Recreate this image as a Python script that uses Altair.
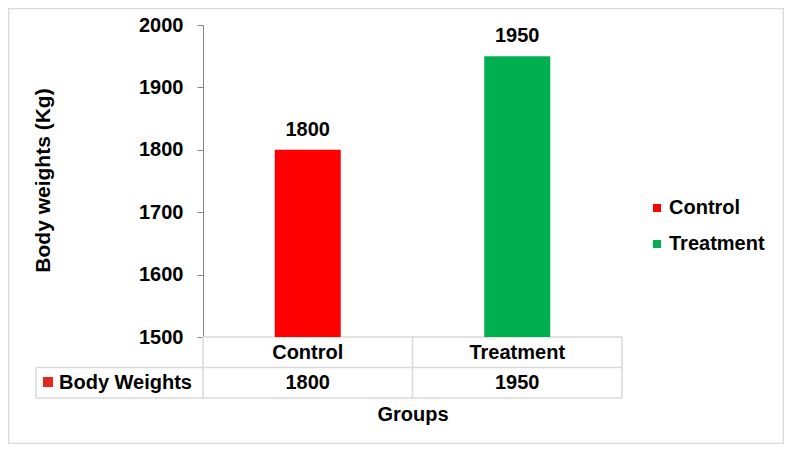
import altair as alt
import pandas as pd

# ---- data ----
groups = ["Control", "Treatment"]
weights = [1800, 1950]
bar_colors = ["#FF0000", "#00B050"]
y_ticks = [1500, 1600, 1700, 1800, 1900, 2000]
y_domain = [1500, 2000]
series_name = "Body Weights"
x_title = "Groups"
y_title = "Body weights (Kg)"

df = pd.DataFrame({"Group": groups, "Weight": weights})
one = alt.Data(values=[{"k": 0}])

FONT = "Liberation Sans"
GRID = "#D9D9D9"
AXIS = "#868686"
KEY_RED = "#E0281E"
W, H = 419, 312

x_enc = alt.X(
    "Group:N",
    sort=groups,
    scale=alt.Scale(domain=groups, paddingInner=0, paddingOuter=0),
    axis=alt.Axis(
        labels=False, ticks=False, domain=False, title=x_title,
        titleFont=FONT, titleFontSize=20, titleFontWeight="bold",
        titleColor="black", titleY=83, titleBaseline="alphabetic",
    ),
)
y_enc = alt.Y(
    "Weight:Q",
    scale=alt.Scale(domain=y_domain, nice=False, zero=False),
    axis=alt.Axis(
        values=y_ticks, format="d", grid=False, domainColor=AXIS,
        tickColor=AXIS, tickSize=6, labelPadding=14, labelFont=FONT,
        labelFontSize=20, labelFontWeight="bold", labelColor="black",
        title=y_title, titleFont=FONT, titleFontSize=21,
        titleFontWeight="bold", titleColor="black", titleAngle=270,
        titleX=-154, titleY=155, titleAlign="center",
        titleBaseline="alphabetic",
    ),
)

base = alt.Chart(df)

bars = base.mark_bar(size=66, clip=True).encode(
    x=x_enc,
    y=y_enc,
    color=alt.Color(
        "Group:N",
        scale=alt.Scale(domain=groups, range=bar_colors),
        legend=alt.Legend(
            title=None, orient="none", legendX=444, legendY=173,
            symbolType="square", symbolSize=64, symbolStrokeWidth=0,
            symbolOpacity=1, labelFont=FONT, labelFontSize=20,
            labelFontWeight="bold", labelColor="black", labelOffset=2,
            rowPadding=16, padding=0,
        ),
    ),
)

value_labels = base.mark_text(
    font=FONT, fontSize=20, fontWeight="bold", color="black",
    baseline="alphabetic", dy=-14,
).encode(x=x_enc, y=y_enc, text="Weight:Q")

table_cats = base.mark_text(
    font=FONT, fontSize=20, fontWeight="bold", color="black",
    baseline="alphabetic",
).encode(x=x_enc, y=alt.value(334), text="Group:N")

table_vals = base.mark_text(
    font=FONT, fontSize=20, fontWeight="bold", color="black",
    baseline="alphabetic",
).encode(x=x_enc, y=alt.value(364), text="Weight:Q")


def hrule(y, x1, x2):
    return alt.Chart(one).mark_rule(color=GRID, strokeWidth=1.5).encode(
        x=alt.value(x1), x2=alt.value(x2), y=alt.value(y)
    )


def vrule(x, y1, y2):
    return alt.Chart(one).mark_rule(color=GRID, strokeWidth=1.5).encode(
        x=alt.value(x), y=alt.value(y1), y2=alt.value(y2)
    )


table_lines = [
    hrule(312, 0, W),
    hrule(342.5, -167, W),
    hrule(373, -167, W),
    vrule(0, 312, 373),
    vrule(W / 2, 312, 373),
    vrule(W, 312, 373),
    vrule(-167, 342.5, 373),
]

key_square = alt.Chart(one).mark_square(size=100, color=KEY_RED, opacity=1).encode(
    x=alt.value(-155), y=alt.value(357)
)
key_text = alt.Chart(one).mark_text(
    font=FONT, fontSize=20, fontWeight="bold", color="black",
    align="left", baseline="alphabetic",
).encode(x=alt.value(-144), y=alt.value(363.5), text=alt.value(series_name))

border = alt.Chart(one).mark_rect(
    fillOpacity=0, stroke=GRID, strokeWidth=1.5
).encode(
    x=alt.value(-194.5), x2=alt.value(580.5), y=alt.value(-16.5), y2=alt.value(418.5)
)

chart = alt.layer(
    border, *table_lines, bars, value_labels, table_cats, table_vals,
    key_square, key_text,
).properties(
    width=W, height=H,
    autosize=alt.AutoSizeParams(type="none"),
    padding={"left": 195, "top": 17, "right": 162, "bottom": 107},
    background="white",
).configure_view(strokeWidth=0)

chart.save("out.html", embed_options={"renderer": "svg", "actions": False})
